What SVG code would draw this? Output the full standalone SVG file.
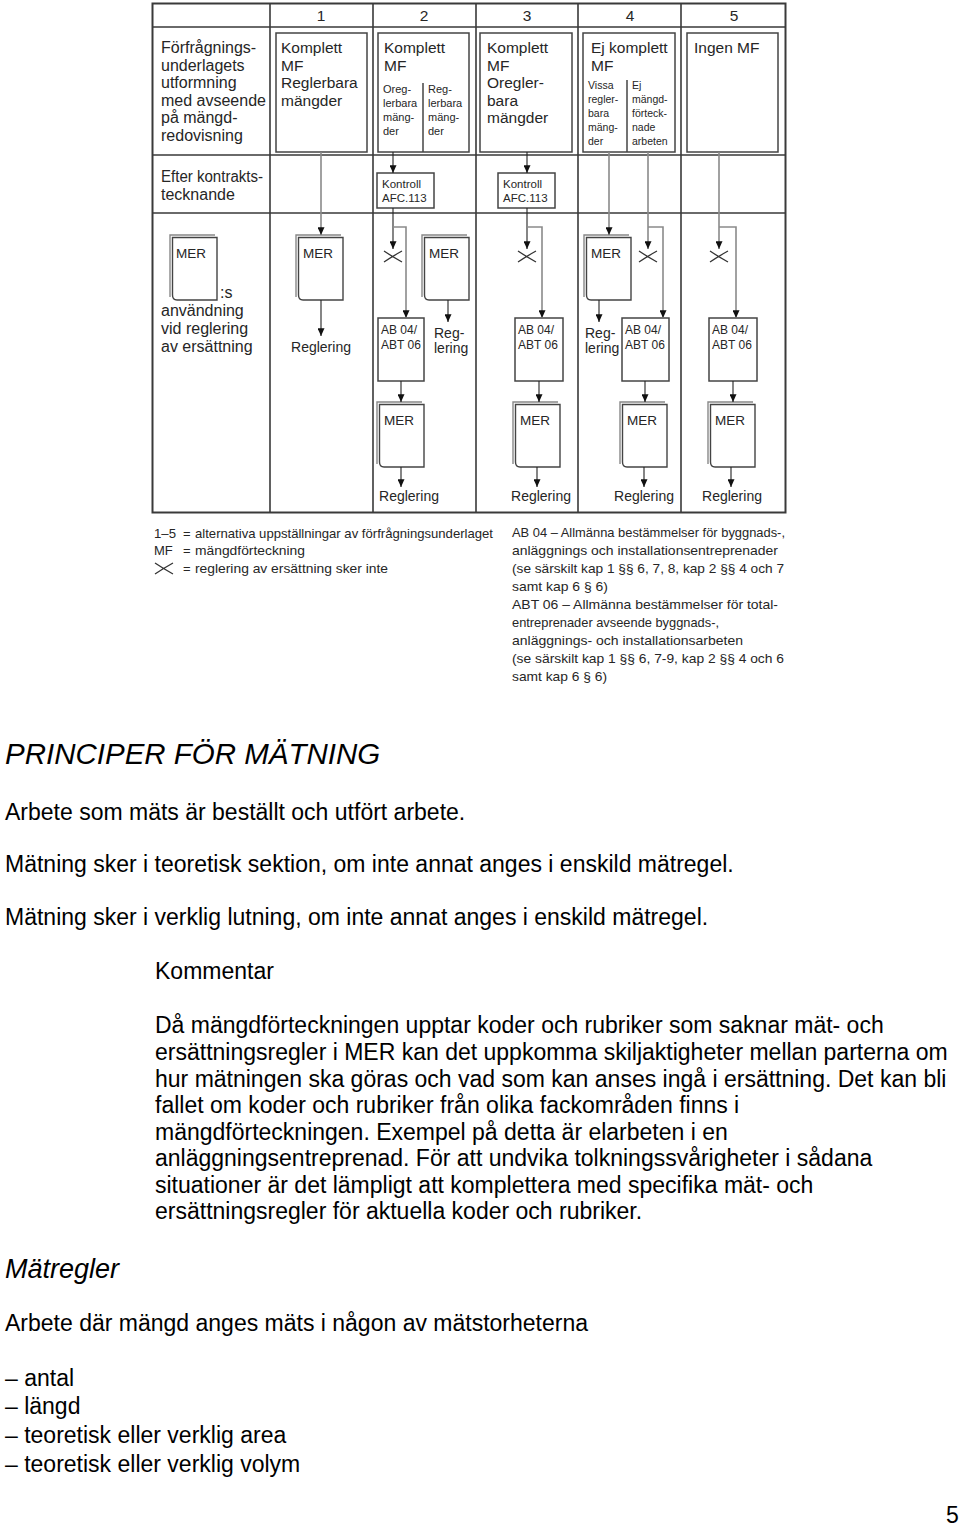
<svg xmlns="http://www.w3.org/2000/svg" width="960" height="1527" viewBox="0 0 960 1527">
<style>
.f{font-family:"Liberation Sans",Arial,sans-serif;fill:#262626}
.t16{font-size:16px}
.t15{font-size:15.5px}
.t11{font-size:11px}
.t12{font-size:12px}
.mer{font-size:13.5px}
.reg{font-size:14px}
.leg{font-size:13px}
.grid{stroke:#3a3a3a;stroke-width:1.6;fill:none}
.box{stroke:#444;stroke-width:1.5;fill:#fff}
.doc{stroke:#444;stroke-width:1.4;fill:#fff}
.docb{stroke:#888;stroke-width:1.4;fill:none}
.cb{stroke:#222;stroke-width:1.1;fill:none}
.cg{stroke:#8a8a8a;stroke-width:1.6;fill:none}
.sc{stroke:#333;stroke-width:1.3;fill:none}
.b{font-family:"Liberation Sans",Arial,sans-serif;fill:#000;font-size:23px}
.bi{font-family:"Liberation Sans",Arial,sans-serif;fill:#000;font-style:italic}
</style>
<defs>
<marker id="ah" viewBox="0 0 9 8" refX="9" refY="4" markerWidth="8" markerHeight="7" markerUnits="userSpaceOnUse" orient="auto">
<path d="M0,0 L9,4 L0,8 Z" fill="#111"/>
</marker>
<g id="merdoc">
<path class="docb" d="M0,62 V0 H45"/>
<path class="doc" d="M2.5,2.5 H47 V65 H7 Q2.5,65 2.5,60 Z"/>
</g>
<path id="scis" d="M-9,-6 Q0,0 9,5 M-9,5 Q0,-1 9,-6"/>
</defs>
<rect width="960" height="1527" fill="#fff"/>

<g id="table">
<rect class="grid" x="152.5" y="3.5" width="633" height="509" style="stroke-width:2"/>
<path class="grid" d="M152,27 H786 M152,155 H786 M152,213 H786 M270,3 V512 M373,3 V512 M476,3 V512 M578,3 V512 M681,3 V512"/>
<g class="f t15" text-anchor="middle">
<text x="321" y="21">1</text>
<text x="424" y="21">2</text>
<text x="527" y="21">3</text>
<text x="630" y="21">4</text>
<text x="734" y="21">5</text>
</g>
</g>

<g id="row-label-1" class="f t16">
<text x="161" y="53">Förfrågnings-</text>
<text x="161" y="70.5">underlagets</text>
<text x="161" y="88">utformning</text>
<text x="161" y="105.5">med avseende</text>
<text x="161" y="123">på mängd-</text>
<text x="161" y="140.5">redovisning</text>
</g>
<g id="row-label-2" class="f t16">
<text x="161" y="182" textLength="102" lengthAdjust="spacingAndGlyphs">Efter kontrakts-</text>
<text x="161" y="200">tecknande</text>
</g>
<g id="row-label-3">
<use href="#merdoc" x="170" y="235"/>
<text class="f mer" x="176" y="258">MER</text>
<g class="f t16">
<text x="220" y="298">:s</text>
<text x="161" y="316">användning</text>
<text x="161" y="334">vid reglering</text>
<text x="161" y="352">av ersättning</text>
</g>
</g>

<g id="alt1">
<rect class="box" x="276" y="33" width="91" height="119"/>
<g class="f t15">
<text x="281" y="53">Komplett</text>
<text x="281" y="70.5">MF</text>
<text x="281" y="88">Reglerbara</text>
<text x="281" y="105.5">mängder</text>
</g>
</g>
<g id="alt2">
<rect class="box" x="378" y="33" width="91" height="119"/>
<line class="box" x1="423" y1="83" x2="423" y2="152"/>
<g class="f t15">
<text x="384" y="53">Komplett</text>
<text x="384" y="70.5">MF</text>
</g>
<g class="f t11">
<text x="383" y="93">Oreg-</text>
<text x="383" y="107">lerbara</text>
<text x="383" y="121">mäng-</text>
<text x="383" y="135">der</text>
<text x="428" y="93">Reg-</text>
<text x="428" y="107">lerbara</text>
<text x="428" y="121">mäng-</text>
<text x="428" y="135">der</text>
</g>
</g>
<g id="alt3">
<rect class="box" x="480" y="33" width="92" height="119"/>
<g class="f t15">
<text x="487" y="53">Komplett</text>
<text x="487" y="70.5">MF</text>
<text x="487" y="88">Oregler-</text>
<text x="487" y="105.5">bara</text>
<text x="487" y="123">mängder</text>
</g>
</g>
<g id="alt4">
<rect class="box" x="583" y="33" width="92" height="119"/>
<line class="box" x1="627" y1="80" x2="627" y2="152"/>
<g class="f t15">
<text x="591" y="53">Ej komplett</text>
<text x="591" y="70.5">MF</text>
</g>
<g class="f" style="font-size:10.5px">
<text x="588" y="89">Vissa</text>
<text x="588" y="103">regler-</text>
<text x="588" y="117">bara</text>
<text x="588" y="131">mäng-</text>
<text x="588" y="145">der</text>
<text x="632" y="89">Ej</text>
<text x="632" y="103">mängd-</text>
<text x="632" y="117">förteck-</text>
<text x="632" y="131">nade</text>
<text x="632" y="145">arbeten</text>
</g>
</g>
<g id="alt5">
<rect class="box" x="687" y="33" width="91" height="119"/>
<text class="f t15" x="694" y="53">Ingen MF</text>
</g>

<g id="kontroll2">
<rect class="box" x="377" y="173" width="57" height="35"/>
<g class="f" style="font-size:11.5px"><text x="382" y="188">Kontroll</text><text x="382" y="202">AFC.113</text></g>
</g>
<g id="kontroll3">
<rect class="box" x="498" y="173" width="57" height="35"/>
<g class="f" style="font-size:11.5px"><text x="503" y="188">Kontroll</text><text x="503" y="202">AFC.113</text></g>
</g>

<g id="mer1">
<use href="#merdoc" x="296" y="235"/>
<text class="f mer" x="303" y="258">MER</text>
<text class="f reg" x="321" y="352" text-anchor="middle">Reglering</text>
</g>
<g id="mer2">
<use href="#merdoc" x="422" y="235"/>
<text class="f mer" x="429" y="258">MER</text>
<text class="f reg" x="434" y="338">Reg-</text>
<text class="f reg" x="434" y="353">lering</text>
</g>
<g id="mer4">
<use href="#merdoc" x="584" y="235"/>
<text class="f mer" x="591" y="258">MER</text>
<text class="f reg" x="585" y="338">Reg-</text>
<text class="f reg" x="585" y="353">lering</text>
</g>

<g id="ab2"><rect class="box" x="378" y="318" width="46" height="63"/><g class="f t12"><text x="381" y="334">AB 04/</text><text x="381" y="349">ABT 06</text></g></g>
<g id="ab3"><rect class="box" x="515" y="318" width="48" height="63"/><g class="f t12"><text x="518" y="334">AB 04/</text><text x="518" y="349">ABT 06</text></g></g>
<g id="ab4"><rect class="box" x="622" y="318" width="47" height="63"/><g class="f t12"><text x="625" y="334">AB 04/</text><text x="625" y="349">ABT 06</text></g></g>
<g id="ab5"><rect class="box" x="709" y="318" width="48" height="63"/><g class="f t12"><text x="712" y="334">AB 04/</text><text x="712" y="349">ABT 06</text></g></g>

<g id="mer-low-2"><use href="#merdoc" x="377" y="402"/><text class="f mer" x="384" y="425">MER</text><text class="f reg" x="409" y="501" text-anchor="middle">Reglering</text></g>
<g id="mer-low-3"><use href="#merdoc" x="513" y="402"/><text class="f mer" x="520" y="425">MER</text><text class="f reg" x="541" y="501" text-anchor="middle">Reglering</text></g>
<g id="mer-low-4"><use href="#merdoc" x="620" y="402"/><text class="f mer" x="627" y="425">MER</text><text class="f reg" x="644" y="501" text-anchor="middle">Reglering</text></g>
<g id="mer-low-5"><use href="#merdoc" x="708" y="402"/><text class="f mer" x="715" y="425">MER</text><text class="f reg" x="732" y="501" text-anchor="middle">Reglering</text></g>

<g id="scissors" class="sc">
<use href="#scis" x="393" y="257"/>
<use href="#scis" x="527" y="257"/>
<use href="#scis" x="648" y="257"/>
<use href="#scis" x="719" y="257"/>
</g>

<g id="connectors">
<path class="cg" d="M321,152 V235" marker-end="url(#ah)"/>
<path class="cb" d="M321,300 V336" marker-end="url(#ah)"/>
<path class="cb" d="M393,152 V173" marker-end="url(#ah)"/>
<path class="cb" d="M393,208 V249" marker-end="url(#ah)"/>
<path class="cg" d="M393,227 H406 V318" marker-end="url(#ah)"/>
<path class="cb" d="M448,300 V322" marker-end="url(#ah)"/>
<path class="cb" d="M527,152 V173" marker-end="url(#ah)"/>
<path class="cb" d="M527,208 V249" marker-end="url(#ah)"/>
<path class="cg" d="M527,227 H542 V318" marker-end="url(#ah)"/>
<path class="cg" d="M609,152 V235" marker-end="url(#ah)"/>
<path class="cb" d="M599,300 V322" marker-end="url(#ah)"/>
<path class="cg" d="M648,152 V249" marker-end="url(#ah)"/>
<path class="cg" d="M648,227 H663 V318" marker-end="url(#ah)"/>
<path class="cg" d="M719,152 V249" marker-end="url(#ah)"/>
<path class="cg" d="M719,227 H736 V318" marker-end="url(#ah)"/>
<path class="cb" d="M401,381 V402" marker-end="url(#ah)"/>
<path class="cb" d="M539,381 V402" marker-end="url(#ah)"/>
<path class="cb" d="M645,381 V402" marker-end="url(#ah)"/>
<path class="cb" d="M733,381 V402" marker-end="url(#ah)"/>
<path class="cb" d="M401,467 V487" marker-end="url(#ah)"/>
<path class="cb" d="M537,467 V487" marker-end="url(#ah)"/>
<path class="cb" d="M644,467 V487" marker-end="url(#ah)"/>
<path class="cb" d="M731,467 V487" marker-end="url(#ah)"/>
</g>

<g id="legend" class="f leg">
<text x="154" y="538" textLength="22" lengthAdjust="spacingAndGlyphs">1–5</text>
<text x="183" y="538">=</text>
<text x="195" y="538" textLength="298" lengthAdjust="spacingAndGlyphs">alternativa uppställningar av förfrågningsunderlaget</text>
<text x="154" y="555">MF</text>
<text x="183" y="555">=</text>
<text x="195" y="555" textLength="110" lengthAdjust="spacingAndGlyphs">mängdförteckning</text>
<use href="#scis" x="164" y="569" class="sc"/>
<text x="183" y="573">=</text>
<text x="195" y="573" textLength="193" lengthAdjust="spacingAndGlyphs">reglering av ersättning sker inte</text>
<text x="512" y="537" textLength="273" lengthAdjust="spacingAndGlyphs">AB 04 – Allmänna bestämmelser för byggnads-,</text>
<text x="512" y="555" textLength="266" lengthAdjust="spacingAndGlyphs">anläggnings och installationsentreprenader</text>
<text x="512" y="573" textLength="272" lengthAdjust="spacingAndGlyphs">(se särskilt kap 1 §§ 6, 7, 8, kap 2 §§ 4 och 7</text>
<text x="512" y="591" textLength="96" lengthAdjust="spacingAndGlyphs">samt kap 6 § 6)</text>
<text x="512" y="609" textLength="266" lengthAdjust="spacingAndGlyphs">ABT 06 – Allmänna bestämmelser för total-</text>
<text x="512" y="627" textLength="207" lengthAdjust="spacingAndGlyphs">entreprenader avseende byggnads-,</text>
<text x="512" y="645" textLength="231" lengthAdjust="spacingAndGlyphs">anläggnings- och installationsarbeten</text>
<text x="512" y="663" textLength="272" lengthAdjust="spacingAndGlyphs">(se särskilt kap 1 §§ 6, 7-9, kap 2 §§ 4 och 6</text>
<text x="512" y="681" textLength="95" lengthAdjust="spacingAndGlyphs">samt kap 6 § 6)</text>
</g>

<g id="body">
<text class="bi" x="5" y="764" style="font-size:29.5px">PRINCIPER FÖR MÄTNING</text>
<text class="b" x="5" y="820">Arbete som mäts är beställt och utfört arbete.</text>
<text class="b" x="5" y="872">Mätning sker i teoretisk sektion, om inte annat anges i enskild mätregel.</text>
<text class="b" x="5" y="925">Mätning sker i verklig lutning, om inte annat anges i enskild mätregel.</text>
<text class="b" x="155" y="979">Kommentar</text>
<text class="b" x="155" y="1033">Då mängdförteckningen upptar koder och rubriker som saknar mät- och</text>
<text class="b" x="155" y="1060">ersättningsregler i MER kan det uppkomma skiljaktigheter mellan parterna om</text>
<text class="b" x="155" y="1087">hur mätningen ska göras och vad som kan anses ingå i ersättning. Det kan bli</text>
<text class="b" x="155" y="1113">fallet om koder och rubriker från olika fackområden finns i</text>
<text class="b" x="155" y="1140">mängdförteckningen. Exempel på detta är elarbeten i en</text>
<text class="b" x="155" y="1166">anläggningsentreprenad. För att undvika tolkningssvårigheter i sådana</text>
<text class="b" x="155" y="1193">situationer är det lämpligt att komplettera med specifika mät- och</text>
<text class="b" x="155" y="1219">ersättningsregler för aktuella koder och rubriker.</text>
<text class="bi" x="5" y="1278" style="font-size:27px">Mätregler</text>
<text class="b" x="5" y="1331">Arbete där mängd anges mäts i någon av mätstorheterna</text>
<text class="b" x="5" y="1386">– antal</text>
<text class="b" x="5" y="1414">– längd</text>
<text class="b" x="5" y="1443">– teoretisk eller verklig area</text>
<text class="b" x="5" y="1472">– teoretisk eller verklig volym</text>
<text class="b" x="946" y="1523">5</text>
</g>
</svg>
